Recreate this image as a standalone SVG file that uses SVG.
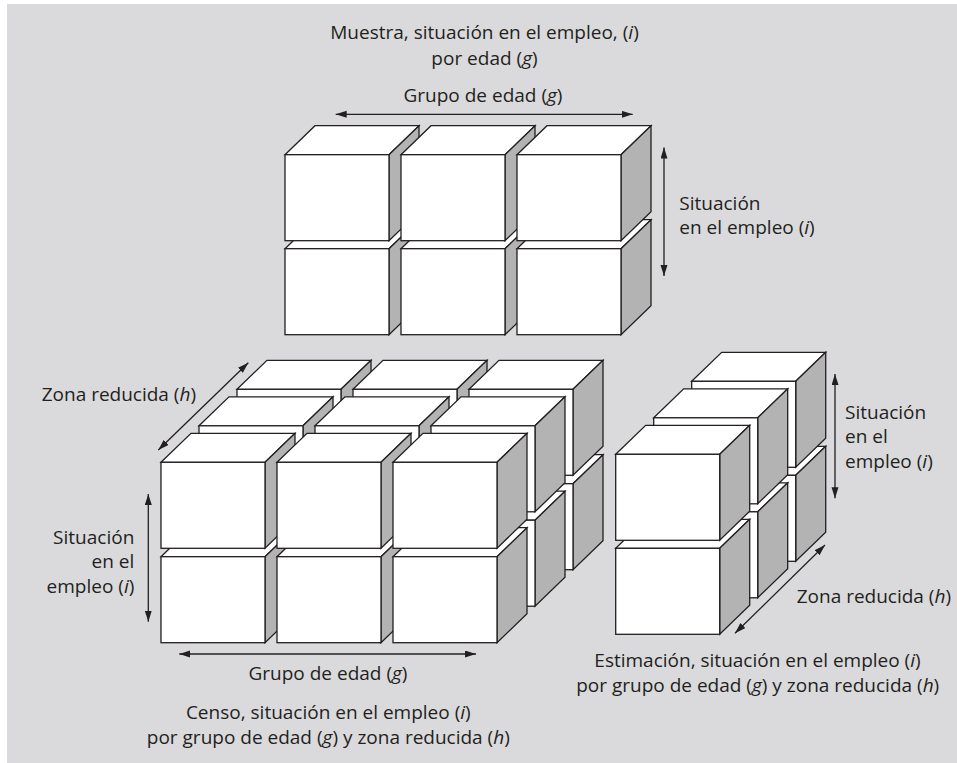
<svg xmlns="http://www.w3.org/2000/svg" xmlns:xlink="http://www.w3.org/1999/xlink" width="957" height="763" viewBox="0 0 957 763">
<style>
.bg{fill:#dadadc}
.front,.top{fill:#ffffff;stroke:#231f20;stroke-width:1.3;stroke-linejoin:miter}
.side{fill:#b3b3b3;stroke:#231f20;stroke-width:1.3;stroke-linejoin:miter}
.arr{stroke:#231f20;stroke-width:1.3;fill:none;marker-start:url(#ah);marker-end:url(#ah)}
text{font-family:"Open Sans","Noto Sans","Liberation Sans",sans-serif;font-size:19px;fill:#231f20}
.c{text-anchor:middle}
.r{text-anchor:end}
.it{font-style:italic}
</style>
<defs>
<marker id="ah" markerUnits="userSpaceOnUse" markerWidth="12" markerHeight="8" refX="11" refY="3.5" orient="auto-start-reverse">
<path d="M0,0 L11,3.5 L0,7 z" fill="#231f20"/>
</marker>
<g id="cube">
<polygon class="top" points="0,0 30,-29 134,-29 104,0"/>
<polygon class="side" points="104,0 134,-29 134,57 104,86"/>
<rect class="front" x="0" y="0" width="104" height="86"/>
</g>
</defs>
<rect class="bg" x="7" y="4" width="950" height="759"/>

<g id="sample">
<use id="s-l1" xlink:href="#cube" href="#cube" x="285" y="248.7"/>
<use id="s-l2" xlink:href="#cube" href="#cube" x="401" y="248.7"/>
<use id="s-l3" xlink:href="#cube" href="#cube" x="517" y="248.7"/>
<use id="s-u1" xlink:href="#cube" href="#cube" x="285" y="154.7"/>
<use id="s-u2" xlink:href="#cube" href="#cube" x="401" y="154.7"/>
<use id="s-u3" xlink:href="#cube" href="#cube" x="517" y="154.7"/>
</g>

<g id="census">
<use id="c-b-l1" xlink:href="#cube" href="#cube" x="237" y="483.7"/>
<use id="c-b-l2" xlink:href="#cube" href="#cube" x="353" y="483.7"/>
<use id="c-b-l3" xlink:href="#cube" href="#cube" x="469" y="483.7"/>
<use id="c-b-u1" xlink:href="#cube" href="#cube" x="237" y="389.3"/>
<use id="c-b-u2" xlink:href="#cube" href="#cube" x="353" y="389.3"/>
<use id="c-b-u3" xlink:href="#cube" href="#cube" x="469" y="389.3"/>
<use id="c-m-l1" xlink:href="#cube" href="#cube" x="199" y="520.2"/>
<use id="c-m-l2" xlink:href="#cube" href="#cube" x="315" y="520.2"/>
<use id="c-m-l3" xlink:href="#cube" href="#cube" x="431" y="520.2"/>
<use id="c-m-u1" xlink:href="#cube" href="#cube" x="199" y="425.8"/>
<use id="c-m-u2" xlink:href="#cube" href="#cube" x="315" y="425.8"/>
<use id="c-m-u3" xlink:href="#cube" href="#cube" x="431" y="425.8"/>
<use id="c-f-l1" xlink:href="#cube" href="#cube" x="161" y="556.7"/>
<use id="c-f-l2" xlink:href="#cube" href="#cube" x="277" y="556.7"/>
<use id="c-f-l3" xlink:href="#cube" href="#cube" x="393" y="556.7"/>
<use id="c-f-u1" xlink:href="#cube" href="#cube" x="161" y="462.3"/>
<use id="c-f-u2" xlink:href="#cube" href="#cube" x="277" y="462.3"/>
<use id="c-f-u3" xlink:href="#cube" href="#cube" x="393" y="462.3"/>
</g>

<g id="estimate">
<use id="e-b-l" xlink:href="#cube" href="#cube" x="691.7" y="475.3"/>
<use id="e-b-u" xlink:href="#cube" href="#cube" x="691.7" y="381.3"/>
<use id="e-m-l" xlink:href="#cube" href="#cube" x="653.7" y="511.8"/>
<use id="e-m-u" xlink:href="#cube" href="#cube" x="653.7" y="417.8"/>
<use id="e-f-l" xlink:href="#cube" href="#cube" x="615.7" y="548.3"/>
<use id="e-f-u" xlink:href="#cube" href="#cube" x="615.7" y="454.3"/>
</g>

<g id="connectors">
<line class="arr" x1="335.7" y1="114.3" x2="632.7" y2="114.3"/>
<line class="arr" x1="664" y1="147.5" x2="664" y2="276"/>
<line class="arr" x1="158.3" y1="450" x2="248.3" y2="362.7"/>
<line class="arr" x1="148.3" y1="494" x2="148.3" y2="621.7"/>
<line class="arr" x1="179.3" y1="654" x2="476" y2="654"/>
<line class="arr" x1="835" y1="374" x2="835" y2="498.3"/>
<line class="arr" x1="735" y1="633.3" x2="825" y2="545"/>
</g>

<g id="labels">
<text class="c" x="484.5" y="39">Muestra, situación en el empleo, (<tspan class="it">i</tspan>)</text>
<text class="c" x="484.5" y="65">por edad (<tspan class="it">g</tspan>)</text>
<text class="c" x="483" y="101.5">Grupo de edad (<tspan class="it">g</tspan>)</text>
<text x="679.3" y="209.5">Situación</text>
<text x="679.3" y="234">en el empleo (<tspan class="it">i</tspan>)</text>
<text x="41.7" y="401">Zona reducida (<tspan class="it">h</tspan>)</text>
<text class="r" x="134.3" y="543.5">Situación</text>
<text class="r" x="134.3" y="568">en el</text>
<text class="r" x="134.3" y="592.5">empleo (<tspan class="it">i</tspan>)</text>
<text class="c" x="328" y="680">Grupo de edad (<tspan class="it">g</tspan>)</text>
<text class="c" x="328.3" y="719">Censo, situación en el empleo (<tspan class="it">i</tspan>)</text>
<text class="c" x="328.3" y="743.5">por grupo de edad (<tspan class="it">g</tspan>) y zona reducida (<tspan class="it">h</tspan>)</text>
<text x="845" y="418.5">Situación</text>
<text x="845" y="443">en el</text>
<text x="845" y="467.5">empleo (<tspan class="it">i</tspan>)</text>
<text x="796.7" y="603">Zona reducida (<tspan class="it">h</tspan>)</text>
<text class="c" x="757.5" y="667">Estimación, situación en el empleo (<tspan class="it">i</tspan>)</text>
<text class="c" x="757.7" y="691.5">por grupo de edad (<tspan class="it">g</tspan>) y zona reducida (<tspan class="it">h</tspan>)</text>
</g>
</svg>
